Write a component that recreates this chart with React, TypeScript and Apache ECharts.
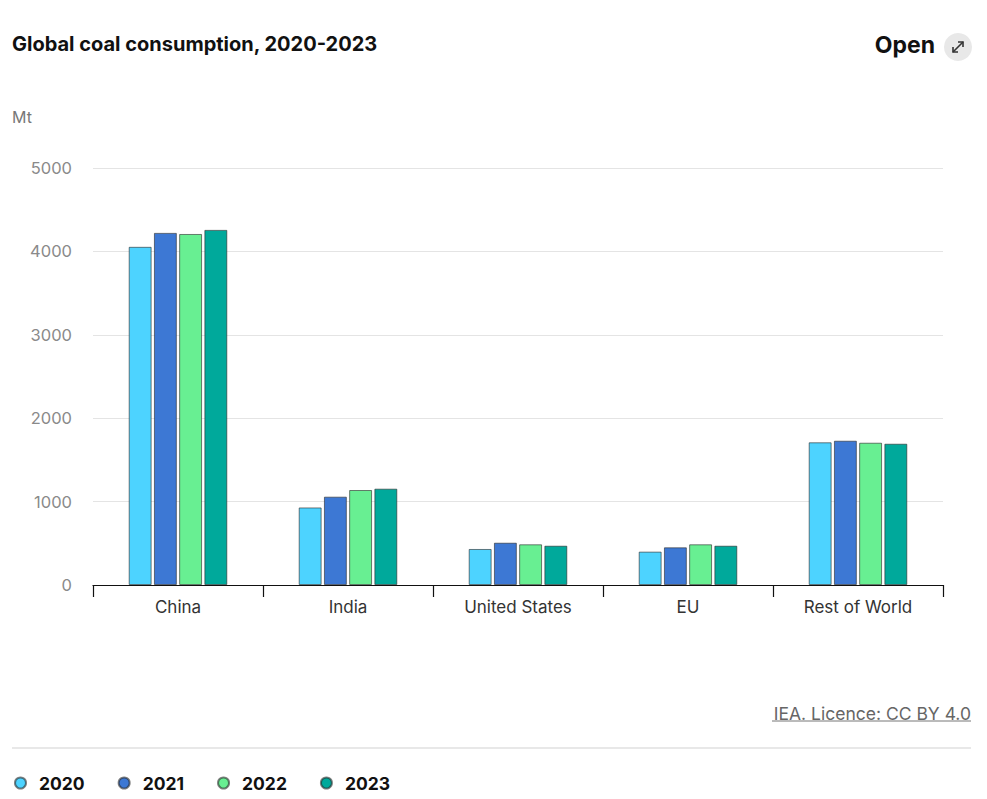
import React, { useEffect, useRef } from "react";
import * as echarts from "echarts";

const categories = ["China", "India", "United States", "EU", "Rest of World"];
const years = ["2020", "2021", "2022", "2023"];
const v2020 = [4055, 930, 432, 400, 1711];
const v2021 = [4222, 1059, 507, 452, 1730];
const v2022 = [4209, 1139, 488, 488, 1706];
const v2023 = [4258, 1155, 471, 471, 1694];
const yTicks = [0, 1000, 2000, 3000, 4000, 5000];
const colors = ["#4dd3ff", "#3d78d4", "#68ef92", "#00a99b"];

const FONT = "Inter, 'Open Sans', sans-serif";

export default function App() {
  const ref = useRef<HTMLDivElement>(null);
  useEffect(() => {
    if (!ref.current) return;
    const chart = echarts.init(ref.current, undefined, { renderer: "svg" });
    const seriesValues = [v2020, v2021, v2022, v2023];
    chart.setOption({
      animation: false,
      textStyle: { fontFamily: FONT },
      grid: { left: 93, right: 44, top: 168, bottom: 214 },
      xAxis: {
        type: "category",
        data: categories,
        axisLine: { lineStyle: { color: "#111", width: 1.2 } },
        axisTick: { show: true, length: 12, alignWithLabel: false, lineStyle: { color: "#111", width: 1.2 } },
        axisLabel: { color: "#333", fontSize: 17, margin: 13, fontFamily: FONT },
      },
      yAxis: {
        type: "value",
        min: yTicks[0],
        max: yTicks[yTicks.length - 1],
        interval: 1000,
        axisLine: { show: false },
        axisTick: { show: false },
        axisLabel: {
          color: "#8a8a8a",
          fontSize: 16.5,
          margin: 21,
          fontFamily: FONT,
          formatter: (v: number) => String(v),
        },
        splitLine: { lineStyle: { color: "#e4e4e4", width: 1 } },
      },
      legend: {
        left: 14,
        top: 774,
        padding: 0,
        icon: "circle",
        itemWidth: 11,
        itemHeight: 11,
        itemGap: 33,
        data: years,
        textStyle: { fontSize: 17.5, fontWeight: "bold", color: "#111", fontFamily: FONT, padding: [0, 0, 0, 8] },
      },
      series: years.map((y, i) => ({
        name: y,
        type: "bar",
        data: seriesValues[i],
        barGap: "10%",
        barCategoryGap: "42%",
        itemStyle: { color: colors[i], borderColor: "rgba(40,40,40,0.6)", borderWidth: 1 },
      })),
      graphic: [
        {
          type: "text",
          left: 12,
          top: 34,
          style: { text: "Global coal consumption, 2020-2023", font: `bold 20px ${FONT}`, fill: "#111" },
        },
        {
          type: "text",
          left: 12,
          top: 109,
          style: { text: "Mt", font: `16px ${FONT}`, fill: "#777" },
        },
        {
          type: "text",
          right: 52,
          top: 33,
          style: { text: "Open", font: `bold 23px ${FONT}`, fill: "#111" },
        },
        {
          type: "circle",
          shape: { cx: 958, cy: 47, r: 14 },
          style: { fill: "#e8e8e8" },
        },
        {
          type: "line",
          shape: { x1: 953, y1: 52, x2: 963, y2: 42 },
          style: { stroke: "#333", lineWidth: 1.6 },
        },
        {
          type: "polyline",
          shape: { points: [[958, 42], [963, 42], [963, 47]] },
          style: { stroke: "#333", lineWidth: 1.6, fill: "none" },
        },
        {
          type: "polyline",
          shape: { points: [[953, 47], [953, 52], [958, 52]] },
          style: { stroke: "#333", lineWidth: 1.6, fill: "none" },
        },
        {
          type: "text",
          right: 16,
          top: 704,
          style: { text: "IEA. Licence: CC BY 4.0", font: `17.5px ${FONT}`, fill: "#666" },
        },
        {
          type: "line",
          shape: { x1: 772, y1: 721, x2: 971, y2: 721 },
          style: { stroke: "#777", lineWidth: 1 },
        },
        {
          type: "line",
          shape: { x1: 12, y1: 748, x2: 971, y2: 748 },
          style: { stroke: "#e8e8e8", lineWidth: 2 },
        },
      ],
    });
    return () => chart.dispose();
  }, []);
  return (
    <div
      ref={ref}
      style={{ position: "absolute", left: 0, top: 0, width: 987, height: 799, background: "#fff" }}
    />
  );
}
